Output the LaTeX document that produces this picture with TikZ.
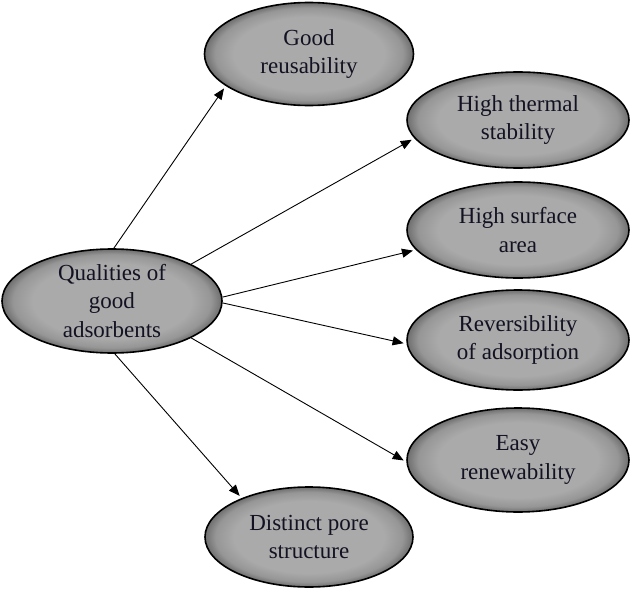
\documentclass[tikz,border=0pt]{standalone}
\usepackage{fontspec}
\setmainfont{Liberation Serif}
\usetikzlibrary{shapes.geometric,arrows.meta}
\definecolor{gA}{RGB}{170,170,170}
\definecolor{gB}{RGB}{150,150,150}
\definecolor{gC}{RGB}{110,110,110}
\definecolor{txtc}{RGB}{18,18,34}
\pgfdeclareradialshading{bevel}{\pgfpoint{0bp}{0bp}}{color(0bp)=(gA); color(18bp)=(gA); color(22.5bp)=(gB); color(25bp)=(gC); color(50bp)=(gC)}
\begin{document}
\begin{tikzpicture}[x=1pt,y=-1pt,
  bub/.style={ellipse, draw=black, line width=1.6pt, shading=bevel, inner sep=0pt},
  txt/.style={align=center, text=txtc, font=\fontsize{23}{28.5}\selectfont},
  arr/.style={-{Triangle[length=11pt,width=9pt]}, line width=0.9pt, shorten >=3pt}]
\useasboundingbox (0,0) rectangle (630,589);
\node[bub, minimum width=220pt, minimum height=104pt, label={[txt]center:Qualities of\\good\\adsorbents}] (q) at (112,301) {};
\node[bub, minimum width=209pt, minimum height=103pt, label={[txt]center:Good\\reusability}] (g) at (309,54) {};
\node[bub, minimum width=222pt, minimum height=96pt, label={[txt]center:High thermal\\stability}] (ht) at (518,120) {};
\node[bub, minimum width=222pt, minimum height=96pt, label={[txt]center:High surface\\area}] (hsa) at (518,230) {};
\node[bub, minimum width=222pt, minimum height=100pt, label={[txt]center:Reversibility\\of adsorption}] (rev) at (518,340) {};
\node[bub, minimum width=222pt, minimum height=104pt, label={[txt]center:Easy\\renewability}] (easy) at (518,460) {};
\node[bub, minimum width=208pt, minimum height=100pt, label={[txt]center:Distinct pore\\structure}] (ds) at (309,537) {};
\draw[arr] (q.88) -- (g.201);
\draw[arr] (q.25) -- (ht.190);
\draw[arr] (q.2) -- (hsa.191);
\draw[arr] (q.-1) -- (rev.182);
\draw[arr] (q.-25) -- (easy.181);
\draw[arr] (q.-87) -- (ds.150);
\end{tikzpicture}
\end{document}
